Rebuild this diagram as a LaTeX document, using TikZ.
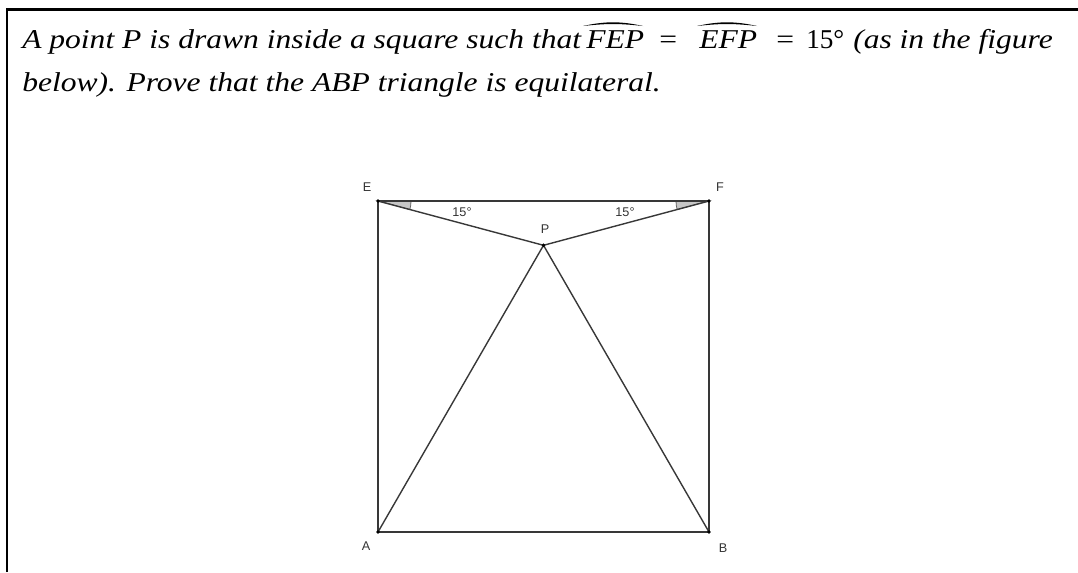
\documentclass[tikz,border=0pt]{standalone}
\usepackage{fontspec}
\setmainfont{Liberation Serif}
\newfontfamily\qfont[FakeStretch=1.16]{Liberation Serif}
\newfontfamily\labelfont{Liberation Sans}
\begin{document}
\begin{tikzpicture}[x=0.75pt,y=-0.75pt,
  frame/.style={line width=1.6pt,black},
  edge/.style={line width=1.05pt,draw=black!78},
  anglefill/.style={fill=black!22,draw=black!60,line width=0.6pt},
  ptdot/.style={circle,fill=black,inner sep=0pt,minimum size=2.8pt},
  lbl/.style={font=\labelfont\fontsize{9.5}{11}\selectfont,text=black!80,inner sep=0pt},
  txt/.style={font=\qfont\fontsize{20.4}{24}\selectfont\itshape,anchor=base west,inner sep=0pt},
  txtup/.style={font=\qfont\fontsize{20.4}{24}\selectfont,anchor=base west,inner sep=0pt},
  degtxt/.style={font=\fontsize{20.4}{24}\selectfont,anchor=base west,inner sep=0pt},
  hat/.style={fill=black}]
\useasboundingbox (0,0) rectangle (1078,572);
% frame
\coordinate (fb) at (7,572);
\coordinate (ft) at (7,9.5);
\coordinate (fr) at (1078,9.5);
\draw[frame] (fb) -- (ft) -- (fr);
% text line 1
\node[txt] (t1) at (22,48) {A point P is drawn inside a square such that};
\node[txt] (fep) at (586,48) {FEP};
\node[txtup] (eq1) at (659,48) {=};
\node[txt] (efp) at (699,48) {EFP};
\node[txtup] (eq2) at (776,48) {=};
\node[degtxt] (deg) at (806,48) {15°};
\node[txt] (t2) at (853,48) {(as in the figure};
% hats
\coordinate (h1l) at (583,26);
\coordinate (h1m) at (613,22.3);
\coordinate (h1r) at (643,26);
\coordinate (h2l) at (697,26);
\coordinate (h2m) at (727,22.3);
\coordinate (h2r) at (757,26);
\fill[hat] (h1l) .. controls (594,23.5) and (604,22.3) .. (h1m) .. controls (622,22.3) and (632,23.5) .. (h1r)
  .. controls (632,24.8) and (622,24) .. (613,24) .. controls (604,24) and (594,24.8) .. cycle;
\fill[hat] (h2l) .. controls (708,23.5) and (718,22.3) .. (h2m) .. controls (736,22.3) and (746,23.5) .. (h2r)
  .. controls (746,24.8) and (736,24) .. (727,24) .. controls (718,24) and (708,24.8) .. cycle;
% text line 2
\node[txt] (l2) at (22,91) {below). Prove that the ABP triangle is equilateral.};
% points
\coordinate (E) at (378,201);
\coordinate (F) at (709,201);
\coordinate (A) at (378,532);
\coordinate (B) at (709,532);
\coordinate (P) at (543.5,245.3);
% angle marks
\path[anglefill] (E) -- ++(0:33) arc[start angle=0,end angle=15,radius=33] -- cycle;
\path[anglefill] (F) -- ++(180:33) arc[start angle=180,end angle=165,radius=33] -- cycle;
% edges
\draw[edge] (E) -- (F) -- (B) -- (A) -- cycle;
\draw[edge] (E) -- (P) -- (F);
\draw[edge] (A) -- (P) -- (B);
% dots
\foreach \p in {E,F,A,B,P} \node[ptdot] (d\p) at (\p) {};
% labels
\node[lbl] (lE) at (367,187) {E};
\node[lbl] (lF) at (720,187) {F};
\node[lbl] (lP) at (545,229) {P};
\node[lbl] (lA) at (366,546) {A};
\node[lbl] (lB) at (723,548) {B};
\node[lbl] (a1) at (462,212) {15°};
\node[lbl] (a2) at (625,212) {15°};
\end{tikzpicture}
\end{document}
